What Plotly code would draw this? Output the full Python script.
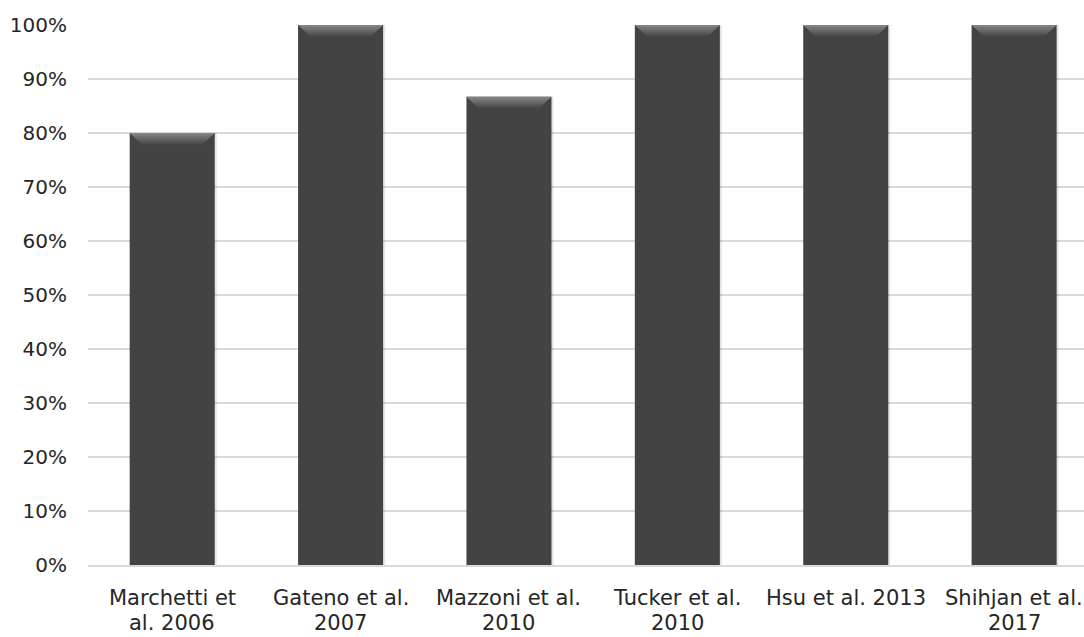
import plotly.graph_objects as go

# Study labels (wrapped onto two lines) and share of successful cases
studies = [
    "Marchetti et<br>al. 2006",
    "Gateno et al.<br>2007",
    "Mazzoni et al.<br>2010",
    "Tucker et al.<br>2010",
    "Hsu et al. 2013",
    "Shihjan et al.<br>2017",
]
success_rate = [0.80, 1.00, 0.867, 1.00, 1.00, 1.00]
y_ticks = [0, 0.1, 0.2, 0.3, 0.4, 0.5, 0.6, 0.7, 0.8, 0.9, 1.0]
y_tick_labels = ["0%", "10%", "20%", "30%", "40%", "50%", "60%", "70%", "80%", "90%", "100%"]

BAR_COLOR = "#434343"
BAR_WIDTH = 0.505
BEVEL_X = 0.075     # horizontal depth of the top bevel, in category units
BEVEL_Y = 0.022     # vertical depth of the top bevel, in axis units
FONT = "'DejaVu Sans', Lato, sans-serif"
TEXT_COLOR = "#262626"
LABEL_ROWS_Y = [-0.062, -0.107]   # paper-y of the first/second category label line

positions = list(range(len(studies)))

fig = go.Figure()

# soft drop shadow just to the right/below each bar
fig.add_trace(go.Bar(
    x=positions,
    y=success_rate,
    width=BAR_WIDTH,
    marker=dict(color="rgba(0,0,0,0.10)", line=dict(width=0)),
    offset=-BAR_WIDTH / 2 + 0.012,
    hoverinfo="skip",
    showlegend=False,
))

fig.add_trace(go.Bar(
    x=positions,
    y=success_rate,
    width=BAR_WIDTH,
    marker=dict(color=BAR_COLOR, line=dict(width=0)),
    showlegend=False,
))

# bevelled top edge on each bar: a lighter trapezoid fading downward
for i, v in enumerate(success_rate):
    l = i - BAR_WIDTH / 2
    r = i + BAR_WIDTH / 2
    xs = [l, r, r - BEVEL_X, l + BEVEL_X, l]
    ys = [v, v, v - BEVEL_Y, v - BEVEL_Y, v]
    fig.add_trace(go.Scatter(
        x=xs, y=ys, mode="lines", fill="toself",
        line=dict(width=0, color="rgba(0,0,0,0)"),
        fillgradient=dict(
            type="vertical",
            colorscale=[[0, "rgba(67,67,67,1)"], [1, "rgba(135,135,135,1)"]],
            start=v - BEVEL_Y, stop=v,
        ),
        hoverinfo="skip", showlegend=False,
    ))

# category labels, one annotation per wrapped line for tighter line spacing
annotations = []
for i, label in enumerate(studies):
    for row, part in enumerate(label.split("<br>")):
        annotations.append(dict(
            x=i, y=LABEL_ROWS_Y[row], xref="x", yref="paper",
            text=part, showarrow=False,
            xanchor="center", yanchor="middle",
            borderpad=0,
            font=dict(family=FONT, size=21, color=TEXT_COLOR),
        ))

fig.update_layout(
    width=1084, height=637,
    margin=dict(l=88, r=0, t=25, b=72),
    paper_bgcolor="white", plot_bgcolor="white",
    barmode="overlay",
    font=dict(family=FONT, size=20, color=TEXT_COLOR),
    annotations=annotations,
    xaxis=dict(
        tickmode="array",
        tickvals=positions,
        showticklabels=False,
        range=[-0.5, 5.415],
        showgrid=False, zeroline=False,
        showline=True, linecolor="#d9d9d9", linewidth=1.5,
        ticks="",
        fixedrange=True,
    ),
    yaxis=dict(
        range=[0, 1.0],
        tickmode="array",
        tickvals=y_ticks,
        ticktext=y_tick_labels,
        showgrid=True, gridcolor="#d9d9d9", gridwidth=1.5,
        zeroline=False, showline=False,
        ticks="", ticklabelstandoff=20,
        fixedrange=True,
    ),
)

fig.write_html("out.html")
